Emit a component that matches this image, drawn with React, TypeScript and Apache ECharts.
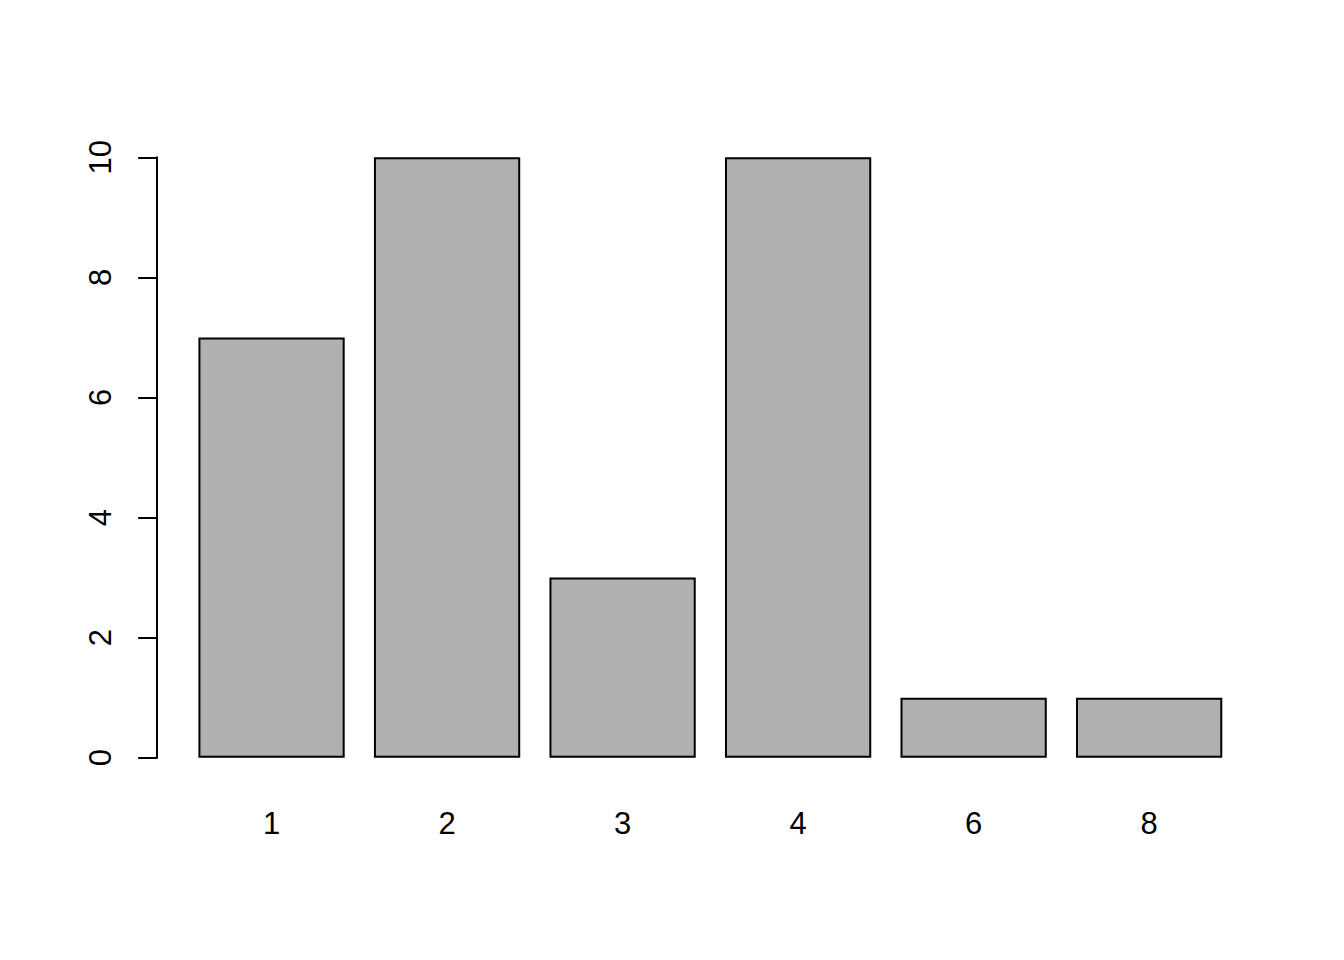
import { useEffect, useRef } from 'react';
import * as echarts from 'echarts';

// counts per category
const categories = ['1', '2', '3', '4', '6', '8'];
const counts = [7, 10, 3, 10, 1, 1];
const yTicks = { min: 0, max: 10, interval: 2 };

const FONT = '"Liberation Sans", Arial, Helvetica, sans-serif';

export default function App() {
  const containerRef = useRef<HTMLDivElement>(null);

  useEffect(() => {
    if (!containerRef.current) return;
    const chart = echarts.init(containerRef.current, null, { renderer: 'svg' });

    const option: echarts.EChartsOption = {
      backgroundColor: '#ffffff',
      animation: false,
      grid: {
        left: 183.8,
        right: 107.1,
        top: 157.3,
        bottom: 202.3,
        containLabel: false,
      },
      xAxis: {
        type: 'category',
        data: categories,
        axisLine: { show: false },
        axisTick: { show: false },
        splitLine: { show: false },
        axisLabel: {
          color: '#000',
          fontSize: 31,
          fontFamily: FONT,
          margin: 50,
        },
      },
      yAxis: {
        type: 'value',
        min: yTicks.min,
        max: yTicks.max,
        interval: yTicks.interval,
        offset: 26.6,
        axisLine: { show: true, lineStyle: { color: '#000', width: 2 } },
        axisTick: { show: true, length: 19, lineStyle: { color: '#000', width: 2 } },
        splitLine: { show: false },
        axisLabel: {
          color: '#000',
          fontSize: 31,
          fontFamily: FONT,
          rotate: 90,
          margin: 41,
        },
      },
      series: [
        {
          type: 'bar',
          data: counts,
          barWidth: 146.27,
          itemStyle: {
            color: '#b0b0b0',
            borderColor: '#000',
            borderWidth: 2,
          },
        },
      ],
    };

    chart.setOption(option);
    return () => {
      chart.dispose();
    };
  }, []);

  return (
    <div
      ref={containerRef}
      style={{ position: 'absolute', left: 0, top: 0, width: 1344, height: 960 }}
    />
  );
}
